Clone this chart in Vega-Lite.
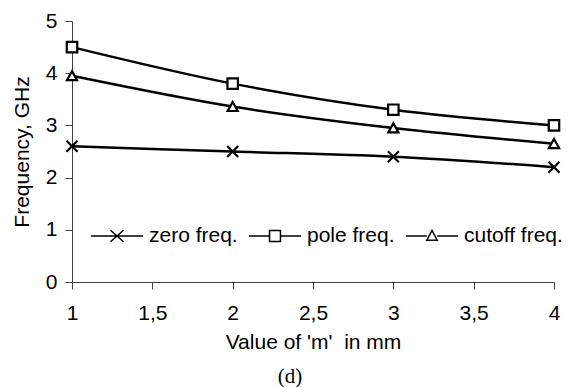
{
  "$schema": "https://vega.github.io/schema/vega-lite/v6.json",
  "autosize": {"type": "none"},
  "width": 482,
  "height": 261,
  "padding": {"left": 72, "top": 21, "right": 20, "bottom": 105},
  "background": "white",
  "title": {
    "text": "(d)",
    "orient": "bottom",
    "anchor": "middle",
    "frame": "group",
    "dx": -23,
    "offset": 14,
    "font": "Liberation Serif",
    "fontSize": 21,
    "fontWeight": "normal",
    "color": "black"
  },
  "data": {
    "values": [
      {"series": "zero freq.", "m": 1, "freq": 2.6},
      {"series": "zero freq.", "m": 2, "freq": 2.5},
      {"series": "zero freq.", "m": 3, "freq": 2.4},
      {"series": "zero freq.", "m": 4, "freq": 2.2},
      {"series": "pole freq.", "m": 1, "freq": 4.5},
      {"series": "pole freq.", "m": 2, "freq": 3.8},
      {"series": "pole freq.", "m": 3, "freq": 3.3},
      {"series": "pole freq.", "m": 4, "freq": 3.0},
      {"series": "cutoff freq.", "m": 1, "freq": 3.95},
      {"series": "cutoff freq.", "m": 2, "freq": 3.36},
      {"series": "cutoff freq.", "m": 3, "freq": 2.95},
      {"series": "cutoff freq.", "m": 4, "freq": 2.65}
    ]
  },
  "config": {
    "view": {"stroke": null},
    "font": "Liberation Sans",
    "axis": {
      "grid": false,
      "domainColor": "#404040",
      "domainWidth": 1,
      "tickColor": "#404040",
      "tickWidth": 1,
      "tickSize": 7,
      "labelFont": "Liberation Sans",
      "labelFontSize": 21,
      "labelColor": "black",
      "titleFont": "Liberation Sans",
      "titleFontSize": 21,
      "titleFontWeight": "normal",
      "titleColor": "black"
    }
  },
  "encoding": {
    "x": {
      "field": "m",
      "type": "quantitative",
      "scale": {"domain": [1, 4], "nice": false},
      "axis": {
        "title": "Value of 'm'\u00a0 in mm",
        "values": [1, 1.5, 2, 2.5, 3, 3.5, 4],
        "format": "~g",
        "labelExpr": "replace(datum.label, '.', ',')",
        "labelPadding": 13,
        "titlePadding": 8,
        "labelFlush": false
      }
    },
    "y": {
      "field": "freq",
      "type": "quantitative",
      "scale": {"domain": [0, 5], "nice": false},
      "axis": {
        "title": "Frequency, GHz",
        "values": [0, 1, 2, 3, 4, 5],
        "labelPadding": 8,
        "titlePadding": 13
      }
    }
  },
  "layer": [
    {
      "mark": {"type": "line", "interpolate": "monotone", "color": "black", "strokeWidth": 2.5},
      "encoding": {"detail": {"field": "series"}}
    },
    {
      "mark": {"type": "point", "filled": true, "fill": "white", "stroke": "black", "strokeWidth": 2.2, "opacity": 1, "size": 121},
      "encoding": {
        "shape": {
          "field": "series",
          "type": "nominal",
          "scale": {
            "domain": ["zero freq.", "pole freq.", "cutoff freq."],
            "range": ["M-1,-1L1,1M-1,1L1,-1", "M-0.95,-0.95H0.95V0.95H-0.95Z", "M0,-0.85L0.92,0.8H-0.92Z"]
          },
          "legend": null
        }
      }
    },
    {
      "transform": [{"filter": "false"}],
      "mark": {"type": "point", "filled": true, "fill": "white", "stroke": "black", "strokeWidth": 2, "opacity": 1},
      "encoding": {
        "shape": {
          "field": "series",
          "type": "nominal",
          "scale": {
            "domain": ["zero freq.", "pole freq.", "cutoff freq."],
            "range": [
              "M-1,0H1M-0.25,-0.22L0.25,0.22M-0.25,0.22L0.25,-0.22",
              "M-1,0H-0.21M0.21,0H1M-0.21,-0.21H0.21V0.21H-0.21Z",
              "M-1,0H-0.2M0.2,0H1M0,-0.22L0.2,0.16H-0.2Z"
            ]
          },
          "legend": {
            "orient": "none",
            "direction": "horizontal",
            "columns": 3,
            "legendX": 18,
            "legendY": 188,
            "padding": 0,
            "title": null,
            "symbolSize": 2704,
            "labelFont": "Liberation Sans",
            "labelFontSize": 21,
            "labelColor": "black",
            "labelOffset": 5,
            "columnPadding": 8,
            "labelLimit": 200,
            "encode": {
              "symbols": {
                "update": {
                  "size": {"value": 2704},
                  "fill": {"value": "white"},
                  "stroke": {"value": "black"},
                  "strokeWidth": {"value": 2.5},
                  "opacity": {"value": 1},
                  "fillOpacity": {"value": 1},
                  "strokeOpacity": {"value": 1}
                }
              }
            }
          }
        }
      }
    }
  ],
  "resolve": {"scale": {"shape": "independent"}, "legend": {"shape": "independent"}}
}
